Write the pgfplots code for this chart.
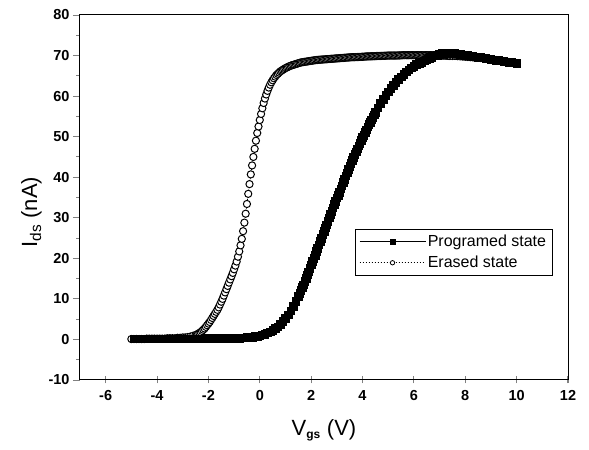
\documentclass[border=0pt]{standalone}
\usepackage{pgfplots}
\pgfplotsset{compat=1.18}
\usepackage{fontspec}
\setmainfont{Liberation Sans}

\begin{document}
\begin{tikzpicture}
\begin{axis}[
    name=ax,
    scale only axis,
    width=488pt, height=365pt,
    xmin=-7, xmax=12,
    ymin=-10, ymax=80,
    xtick={-6,-4,...,12},
    ytick={-10,0,...,80},
    minor y tick num=1,
    xtick pos=left, ytick pos=left,
    tick align=outside,
    major tick length=7pt,
    minor tick length=3.5pt,
    xtick style={yshift=3.5pt, line width=1.1pt},
    ytick style={line width=0.9pt},
    axis line style={line width=1pt},
    /pgf/number format/assume math mode=true,
    ticklabel style={font=\fontsize{14.5}{16}\selectfont\bfseries},
    xlabel={V\textsubscript{\fontsize{12}{14}\selectfont\bfseries gs} (V)},
    ylabel={I\textsubscript{ds} (nA)},
    label style={font=\fontsize{22}{26}\selectfont},
    xlabel style={at={(axis description cs:0.5,-0.151)}, anchor=base},
    ylabel style={at={(axis description cs:-0.088,0.46)}, anchor=base},
    legend style={at={(axis cs:3.7,27.3)}, anchor=north west,
        font=\fontsize{16}{19}\selectfont, draw=black, line width=0.8pt,
        row sep=4pt, inner xsep=4pt, inner ysep=4pt,
        nodes={anchor=west}},
    reverse legend,
]
% erased state (open circles)
\addplot[black, line width=0.6pt, dash pattern=on 1.5pt off 1.5pt,
    mark=*, mark size=3.6pt, mark options={solid, fill=white, line width=1pt},
    legend image code/.code={
        \path (-12pt,0pt) -- (54pt,0pt);
        \draw[line width=0.6pt, dash pattern=on 1.5pt off 1.5pt] (0pt,0pt) -- (42pt,0pt);
        \draw[solid, fill=white, line width=0.8pt] (21pt,0pt) circle (2.2pt);
    }] coordinates {
(-5.0,0.1) (-4.9,0.1) (-4.8,0.1) (-4.7,0.1) (-4.6,0.1) (-4.5,0.1)
(-4.4,0.2) (-4.3,0.2) (-4.2,0.2) (-4.1,0.2) (-4.0,0.2) (-3.9,0.2)
(-3.8,0.2) (-3.7,0.2) (-3.6,0.3) (-3.5,0.3) (-3.4,0.3) (-3.3,0.3)
(-3.2,0.4) (-3.1,0.4) (-3.0,0.5) (-2.9,0.5) (-2.8,0.6) (-2.7,0.7)
(-2.6,0.9) (-2.5,1.1)
(-2.45,1.2) (-2.40,1.4) (-2.35,1.6) (-2.30,1.8) (-2.25,2.1) (-2.20,2.4)
(-2.15,2.7) (-2.10,3.1) (-2.05,3.5) (-2.00,3.9) (-1.95,4.3) (-1.90,4.8)
(-1.85,5.3) (-1.80,5.8) (-1.75,6.3) (-1.70,6.8) (-1.65,7.3) (-1.60,7.9)
(-1.55,8.6) (-1.50,9.3) (-1.45,10.0) (-1.40,10.8) (-1.35,11.6) (-1.30,12.4)
(-1.25,13.2) (-1.20,14.0) (-1.15,14.8) (-1.10,15.6) (-1.05,16.4) (-1.00,17.3)
(-0.95,18.2) (-0.90,19.2) (-0.85,20.4) (-0.80,21.7) (-0.75,23.2) (-0.70,24.8)
(-0.65,26.7) (-0.60,28.8) (-0.55,31.0) (-0.50,33.4) (-0.45,35.9) (-0.40,38.3)
(-0.35,40.7) (-0.30,42.9) (-0.25,45.0) (-0.20,47.0) (-0.15,49.0) (-0.10,50.9)
(-0.05,52.5) (0.00,54.1) (0.05,55.6) (0.10,57.0) (0.15,58.3) (0.20,59.4)
(0.25,60.4) (0.30,61.3) (0.35,62.1) (0.40,62.8) (0.45,63.4) (0.50,63.9)
(0.55,64.4) (0.60,64.8) (0.65,65.2) (0.70,65.5) (0.75,65.8) (0.80,66.1)
(0.85,66.3) (0.90,66.5) (0.95,66.7) (1.00,66.9) (1.05,67.05) (1.10,67.2)
(1.15,67.35) (1.20,67.5) (1.25,67.6) (1.30,67.7) (1.35,67.8) (1.40,67.9)
(1.45,68.0) (1.50,68.1) (1.55,68.2) (1.60,68.3) (1.65,68.35) (1.70,68.4)
(1.75,68.45) (1.80,68.5) (1.85,68.55) (1.90,68.6) (1.95,68.65) (2.00,68.7)
(2.05,68.75) (2.10,68.8) (2.15,68.85) (2.20,68.9) (2.25,68.92) (2.30,68.95)
(2.35,68.98) (2.40,69.0) (2.45,69.02) (2.50,69.05) (2.55,69.08) (2.60,69.1)
(2.65,69.12) (2.70,69.15) (2.75,69.18) (2.80,69.2) (2.85,69.22) (2.90,69.25)
(2.95,69.28) (3.00,69.3) (3.05,69.32) (3.10,69.35) (3.15,69.38) (3.20,69.4)
(3.25,69.42) (3.30,69.45) (3.35,69.48) (3.40,69.5) (3.45,69.52) (3.50,69.55)
(3.55,69.58) (3.60,69.6) (3.65,69.6) (3.70,69.6) (3.75,69.62) (3.80,69.63)
(3.85,69.65) (3.90,69.66) (3.95,69.68) (4.00,69.7) (4.05,69.72) (4.10,69.75)
(4.15,69.78) (4.20,69.8) (4.25,69.8) (4.30,69.8) (4.35,69.82) (4.40,69.83)
(4.45,69.84) (4.50,69.85) (4.55,69.88) (4.60,69.9) (4.65,69.9) (4.70,69.9)
(4.75,69.92) (4.80,69.93) (4.85,69.94) (4.90,69.95) (4.95,69.98) (5.00,70.0)
(5.05,70.0) (5.10,70.0) (5.15,70.0) (5.20,70.0) (5.25,70.0) (5.30,70.0)
(5.35,70.02) (5.40,70.03) (5.45,70.04) (5.50,70.05) (5.55,70.08) (5.60,70.1)
(5.65,70.1) (5.70,70.1) (5.75,70.1) (5.80,70.1) (5.85,70.1) (5.90,70.1)
(5.95,70.1) (6.00,70.1) (6.05,70.1) (6.10,70.1) (6.15,70.1) (6.20,70.1)
(6.25,70.1) (6.30,70.1) (6.35,70.1) (6.40,70.1) (6.45,70.1) (6.50,70.1)
(6.55,70.1) (6.60,70.1) (6.65,70.1) (6.70,70.1) (6.75,70.1) (6.80,70.1)
(6.85,70.08) (6.90,70.05) (6.95,70.02) (7.00,70.0) (7.05,70.0) (7.10,70.0)
(7.15,70.0) (7.20,70.0) (7.25,69.98) (7.30,69.95) (7.35,69.92) (7.40,69.9)
(7.50,69.9) (7.60,69.9) (7.70,69.85) (7.80,69.8) (7.90,69.75) (8.00,69.7)
(8.10,69.65) (8.20,69.6) (8.30,69.55) (8.40,69.5) (8.50,69.45) (8.60,69.4)
(8.70,69.3) (8.80,69.2) (8.90,69.15) (9.00,69.1) (9.10,69.0) (9.20,68.9)
(9.30,68.8) (9.40,68.7) (9.50,68.6) (9.60,68.5) (9.70,68.4) (9.80,68.3)
(9.90,68.2) (10.00,68.1)
};
\addlegendentry{Erased state}
% programed state (filled squares)
\addplot[black, line width=0.6pt, mark=square*, mark size=3.8pt,
    mark options={solid, fill=black},
    legend image code/.code={
        \path (-12pt,0pt) -- (54pt,0pt);
        \draw[line width=0.6pt] (0pt,0pt) -- (42pt,0pt);
        \fill (18.5pt,-2.5pt) rectangle (23.5pt,2.5pt);
    }] coordinates {
(-4.9,0.2) (-4.8,0.2) (-4.7,0.2) (-4.6,0.2) (-4.5,0.2) (-4.4,0.2) (-4.3,0.2)
(-4.2,0.2) (-4.1,0.2) (-4.0,0.2) (-3.9,0.2) (-3.8,0.2) (-3.7,0.2) (-3.6,0.2)
(-3.5,0.2) (-3.4,0.2) (-3.3,0.2) (-3.2,0.2) (-3.1,0.2) (-3.0,0.2) (-2.9,0.2)
(-2.8,0.2) (-2.7,0.2) (-2.6,0.2) (-2.5,0.2) (-2.4,0.2) (-2.3,0.2) (-2.2,0.2)
(-2.1,0.25) (-2.0,0.25) (-1.9,0.25) (-1.8,0.25) (-1.7,0.25) (-1.6,0.25)
(-1.5,0.3) (-1.4,0.3) (-1.3,0.3) (-1.2,0.3) (-1.1,0.3) (-1.0,0.3)
(-0.9,0.32) (-0.8,0.35) (-0.7,0.4) (-0.6,0.45) (-0.5,0.5) (-0.4,0.55)
(-0.3,0.6) (-0.2,0.7) (-0.1,0.8) (0.0,0.9) (0.1,1.1) (0.2,1.3) (0.3,1.6)
(0.4,1.9) (0.5,2.3) (0.6,2.7) (0.7,3.1) (0.8,3.7) (0.9,4.4) (1.0,5.2)
(1.1,6.1) (1.2,7.1) (1.3,8.2) (1.4,9.4) (1.5,10.7)
(1.55,11.4) (1.6,12.1) (1.65,12.8) (1.7,13.5) (1.75,14.3) (1.8,15.1)
(1.85,15.9) (1.9,16.7) (1.95,17.5) (2.0,18.4) (2.05,19.2) (2.1,20.0)
(2.15,20.8) (2.2,21.7) (2.25,22.5) (2.3,23.3) (2.35,24.2) (2.4,25.0)
(2.45,25.9) (2.5,26.7) (2.55,27.5) (2.6,28.3) (2.65,29.2) (2.7,30.0)
(2.75,30.8) (2.8,31.6) (2.85,32.5) (2.9,33.3) (2.95,34.1) (3.0,34.9)
(3.05,35.6) (3.1,36.3) (3.15,37.1) (3.2,37.9) (3.25,38.7) (3.3,39.5)
(3.35,40.3) (3.4,41.1) (3.45,41.9) (3.5,42.7) (3.55,43.4) (3.6,44.2)
(3.65,44.9) (3.7,45.6) (3.75,46.3) (3.8,47.0) (3.85,47.7) (3.9,48.4)
(3.95,49.1) (4.0,49.8) (4.05,50.4) (4.1,51.1) (4.15,51.7) (4.2,52.4)
(4.25,53.0) (4.3,53.6) (4.35,54.2) (4.4,54.8) (4.45,55.4) (4.5,56.0)
(4.6,57.1) (4.7,58.2) (4.8,59.2) (4.9,60.2) (5.0,61.1) (5.1,61.9)
(5.2,62.7) (5.3,63.4) (5.4,64.1) (5.5,64.8) (5.6,65.4) (5.7,66.0)
(5.8,66.5) (5.9,67.0) (6.0,67.4) (6.1,67.8) (6.2,68.1) (6.3,68.4)
(6.4,68.7) (6.5,69.0) (6.6,69.3) (6.7,69.6) (6.8,69.9) (6.9,70.1)
(7.0,70.3) (7.1,70.5) (7.2,70.6) (7.3,70.7) (7.4,70.7) (7.5,70.6)
(7.6,70.5) (7.7,70.4) (7.8,70.3) (7.9,70.2) (8.0,70.1) (8.1,70.0)
(8.2,69.9) (8.3,69.8) (8.4,69.7) (8.5,69.6) (8.6,69.5) (8.7,69.4)
(8.8,69.3) (8.9,69.2) (9.0,69.1) (9.1,69.0) (9.2,68.9) (9.3,68.8)
(9.4,68.7) (9.5,68.6) (9.6,68.5) (9.7,68.4) (9.8,68.3) (9.9,68.2)
(10.0,68.1)
};
\addlegendentry{Programed state}
\end{axis}
\path ([shift={(-80pt,-70pt)}]ax.south west) rectangle ([shift={(21pt,15pt)}]ax.north east);
\end{tikzpicture}
\end{document}
